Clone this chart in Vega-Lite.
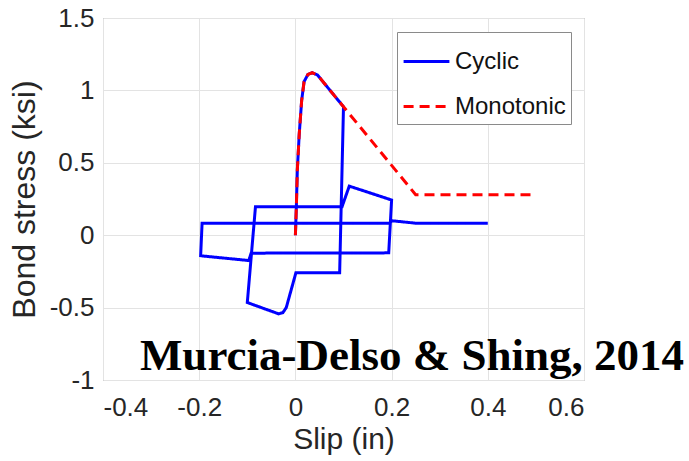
{
  "$schema": "https://vega.github.io/schema/vega-lite/v6.json",
  "autosize": {"type": "none"},
  "width": 481,
  "height": 362,
  "padding": {"left": 103, "top": 18, "right": 105, "bottom": 81},
  "background": "white",
  "config": {
    "view": {"stroke": "#8a8a8a", "strokeWidth": 1},
    "font": "Liberation Sans"
  },
  "layer": [
    {
      "data": {
        "values": [
          {"s": "Cyclic", "i": 0, "x": 0.0, "y": 0.0},
          {"s": "Cyclic", "i": 1, "x": 0.002, "y": 0.2},
          {"s": "Cyclic", "i": 2, "x": 0.004, "y": 0.45},
          {"s": "Cyclic", "i": 3, "x": 0.008, "y": 0.7},
          {"s": "Cyclic", "i": 4, "x": 0.013, "y": 0.93},
          {"s": "Cyclic", "i": 5, "x": 0.018, "y": 1.06},
          {"s": "Cyclic", "i": 6, "x": 0.026, "y": 1.11},
          {"s": "Cyclic", "i": 7, "x": 0.035, "y": 1.122},
          {"s": "Cyclic", "i": 8, "x": 0.046, "y": 1.106},
          {"s": "Cyclic", "i": 9, "x": 0.1, "y": 0.887},
          {"s": "Cyclic", "i": 10, "x": 0.092, "y": -0.26},
          {"s": "Cyclic", "i": 11, "x": 0.001, "y": -0.26},
          {"s": "Cyclic", "i": 12, "x": -0.019, "y": -0.5},
          {"s": "Cyclic", "i": 13, "x": -0.026, "y": -0.535},
          {"s": "Cyclic", "i": 14, "x": -0.035, "y": -0.543},
          {"s": "Cyclic", "i": 15, "x": -0.1, "y": -0.465},
          {"s": "Cyclic", "i": 16, "x": -0.083, "y": 0.197},
          {"s": "Cyclic", "i": 17, "x": 0.097, "y": 0.197},
          {"s": "Cyclic", "i": 18, "x": 0.112, "y": 0.339},
          {"s": "Cyclic", "i": 19, "x": 0.2, "y": 0.243},
          {"s": "Cyclic", "i": 20, "x": 0.194, "y": -0.122},
          {"s": "Cyclic", "i": 21, "x": -0.092, "y": -0.124},
          {"s": "Cyclic", "i": 22, "x": -0.097, "y": -0.175},
          {"s": "Cyclic", "i": 23, "x": -0.197, "y": -0.142},
          {"s": "Cyclic", "i": 24, "x": -0.194, "y": 0.083},
          {"s": "Cyclic", "i": 25, "x": 0.196, "y": 0.083},
          {"s": "Cyclic", "i": 26, "x": 0.2, "y": 0.1},
          {"s": "Cyclic", "i": 27, "x": 0.25, "y": 0.083},
          {"s": "Cyclic", "i": 28, "x": 0.4, "y": 0.083},
          {"s": "Monotonic", "i": 0, "x": 0.0, "y": 0.0},
          {"s": "Monotonic", "i": 1, "x": 0.002, "y": 0.2},
          {"s": "Monotonic", "i": 2, "x": 0.004, "y": 0.45},
          {"s": "Monotonic", "i": 3, "x": 0.008, "y": 0.7},
          {"s": "Monotonic", "i": 4, "x": 0.013, "y": 0.93},
          {"s": "Monotonic", "i": 5, "x": 0.018, "y": 1.06},
          {"s": "Monotonic", "i": 6, "x": 0.026, "y": 1.11},
          {"s": "Monotonic", "i": 7, "x": 0.035, "y": 1.122},
          {"s": "Monotonic", "i": 8, "x": 0.046, "y": 1.106},
          {"s": "Monotonic", "i": 9, "x": 0.1, "y": 0.887},
          {"s": "Monotonic", "i": 10, "x": 0.25, "y": 0.28},
          {"s": "Monotonic", "i": 11, "x": 0.5, "y": 0.28}
        ]
      },
      "mark": {"type": "line", "strokeWidth": 3, "clip": true},
      "encoding": {
        "x": {
          "field": "x", "type": "quantitative",
          "scale": {"domain": [-0.4, 0.6], "nice": false, "zero": false},
          "axis": {
            "title": "Slip (in)",
            "values": [-0.4, -0.2, 0, 0.2, 0.4, 0.6],
            "labelExpr": "datum.value + ''",
            "labelFontSize": 26, "labelColor": "#262626", "labelPadding": 14,
            "labelFont": "Liberation Sans",
            "ticks": false, "domain": false,
            "grid": true, "gridColor": "#e3e3e3", "gridWidth": 1,
            "titleFontSize": 30, "titleFontWeight": "normal", "titleColor": "#262626",
            "titleFont": "Liberation Sans", "titlePadding": 4
          }
        },
        "y": {
          "field": "y", "type": "quantitative",
          "scale": {"domain": [-1, 1.5], "nice": false, "zero": false},
          "axis": {
            "title": "Bond stress (ksi)",
            "values": [-1, -0.5, 0, 0.5, 1, 1.5],
            "labelExpr": "datum.value + ''",
            "labelFontSize": 26, "labelColor": "#262626", "labelPadding": 9,
            "labelFont": "Liberation Sans",
            "ticks": false, "domain": false,
            "grid": true, "gridColor": "#e3e3e3", "gridWidth": 1,
            "titleFontSize": 32, "titleFontWeight": "normal", "titleColor": "#262626",
            "titleFont": "Liberation Sans", "titlePadding": 8
          }
        },
        "order": {"field": "i", "type": "quantitative"},
        "color": {
          "field": "s", "type": "nominal",
          "scale": {"domain": ["Cyclic", "Monotonic"], "range": ["#0000ff", "#ff0000"]},
          "legend": {
            "title": null,
            "orient": "none",
            "legendX": 294,
            "legendY": 14,
            "direction": "vertical",
            "fillColor": "white",
            "strokeColor": "#8a8a8a",
            "padding": 5,
            "labelFontSize": 24,
            "labelFont": "Liberation Sans",
            "labelColor": "#111111",
            "labelOffset": 4,
            "rowPadding": 8,
            "symbolType": "stroke",
            "symbolSize": 2100,
            "symbolStrokeWidth": 3
          }
        },
        "strokeDash": {
          "field": "s", "type": "nominal",
          "scale": {"domain": ["Cyclic", "Monotonic"], "range": [[1, 0], [10, 6]]},
          "legend": {
            "title": null,
            "orient": "none",
            "legendX": 294,
            "legendY": 14,
            "direction": "vertical",
            "fillColor": "white",
            "strokeColor": "#8a8a8a",
            "padding": 5,
            "labelFontSize": 24,
            "labelFont": "Liberation Sans",
            "labelColor": "#111111",
            "labelOffset": 4,
            "rowPadding": 8,
            "symbolType": "stroke",
            "symbolSize": 2100,
            "symbolStrokeWidth": 3
          }
        }
      }
    },
    {
      "data": {"values": [{"label": "Murcia-Delso & Shing, 2014"}]},
      "mark": {
        "type": "text",
        "font": "Liberation Serif",
        "fontWeight": "bold",
        "fontSize": 45,
        "color": "black",
        "align": "center",
        "baseline": "alphabetic"
      },
      "encoding": {
        "text": {"field": "label", "type": "nominal"},
        "x": {"datum": 0.2424, "type": "quantitative"},
        "y": {"datum": -0.93, "type": "quantitative"}
      }
    }
  ]
}
